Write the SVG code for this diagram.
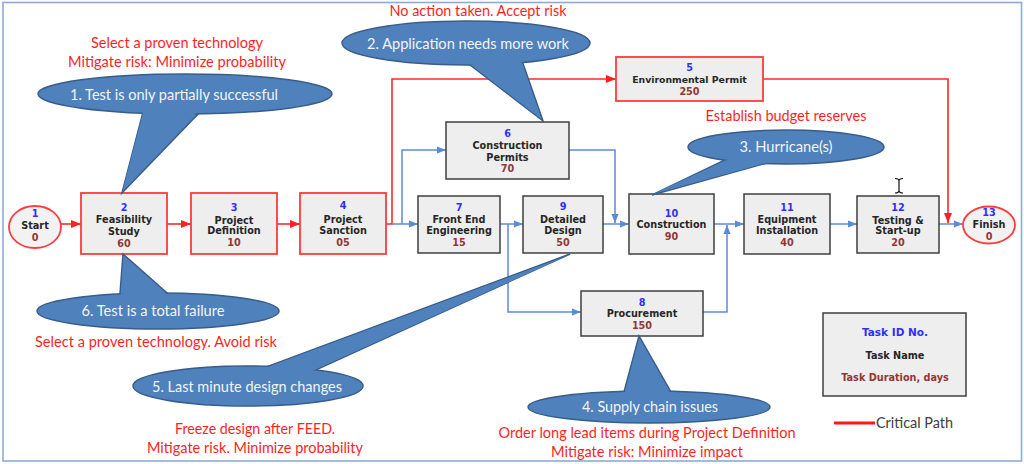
<svg xmlns="http://www.w3.org/2000/svg" width="1024" height="464" viewBox="0 0 1024 464">
<style>
.bg{fill:#ffffff}
.frame{fill:none;stroke:#8eaad6;stroke-width:1.6}
.box{fill:#eeeeee;stroke:#3f3f3f;stroke-width:1.5}
.cbox{fill:#eeeeee;stroke:#ff3b3b;stroke-width:1.8}
.t{font-family:"DejaVu Sans",Verdana,sans-serif;font-weight:bold;font-size:9.7px;text-anchor:middle}
.num{fill:#2e2eff}
.nm{fill:#262626}
.dur{fill:#943634}
.cs{fill:#4f81bd;stroke:#385d8a;stroke-width:1.5}
.cf{fill:#4f81bd;stroke:none}
.ct{font-family:Lato,"Open Sans",sans-serif;font-size:15px;fill:#f4f4f4;text-anchor:middle}
.note{font-family:Lato,"Open Sans",sans-serif;font-size:15px;fill:#ff1f1f;text-anchor:middle}
.cb{fill:none;stroke:#5b8ad6;stroke-width:1.5}
.cr{fill:none;stroke:#ff2a2a;stroke-width:1.6}
</style>
<defs>
<marker id="ab" viewBox="0 0 10 8" refX="10" refY="4" markerWidth="9" markerHeight="7.5" markerUnits="userSpaceOnUse" orient="auto"><path d="M0,0L10,4L0,8z" fill="#5b8ad6"/></marker>
<marker id="ar" viewBox="0 0 10 8" refX="10" refY="4" markerWidth="10" markerHeight="8.5" markerUnits="userSpaceOnUse" orient="auto"><path d="M0,0L10,4L0,8z" fill="#ff2020"/></marker>
</defs>
<rect class="bg" x="0" y="0" width="1024" height="464"/>
<rect class="frame" x="3" y="2.5" width="1018.5" height="458.5"/>

<g id="connectors">
<path class="cr" d="M61,224H81" marker-end="url(#ar)"/>
<path class="cr" d="M167,224H191" marker-end="url(#ar)"/>
<path class="cr" d="M277,224H300" marker-end="url(#ar)"/>
<path class="cr" d="M386,224H392V79H616" marker-end="url(#ar)"/>
<path class="cr" d="M763,79H948V223" marker-end="url(#ar)"/>
<path class="cb" d="M392,224H418" marker-end="url(#ab)"/>
<path class="cb" d="M402,224V150H446" marker-end="url(#ab)"/>
<path class="cb" d="M500,224H523" marker-end="url(#ab)"/>
<path class="cb" d="M508,224V312H581" marker-end="url(#ab)"/>
<path class="cb" d="M569,150H615V223" marker-end="url(#ab)"/>
<path class="cb" d="M603,224H629" marker-end="url(#ab)"/>
<path class="cb" d="M714,224H744" marker-end="url(#ab)"/>
<path class="cb" d="M703,312H727V225" marker-end="url(#ab)"/>
<path class="cb" d="M830,224H857" marker-end="url(#ab)"/>
<path class="cb" d="M939,224H963" marker-end="url(#ab)"/>
</g>

<g id="n1">
<ellipse cx="35" cy="227" rx="26" ry="21" fill="#f2f2f2" stroke="#ff3b3b" stroke-width="1.8"/>
<text class="t num" x="35" y="216.5">1</text>
<text class="t nm" x="35" y="228.5">Start</text>
<text class="t dur" x="35" y="240.5">0</text>
</g>
<g id="n2">
<rect class="cbox" x="81" y="193" width="86" height="61"/>
<text class="t num" x="124" y="210.5">2</text>
<text class="t nm" x="124" y="223">Feasibility</text>
<text class="t nm" x="124" y="234.5">Study</text>
<text class="t dur" x="124" y="246.5">60</text>
</g>
<g id="n3">
<rect class="cbox" x="191" y="193" width="86" height="61"/>
<text class="t num" x="234" y="210.5">3</text>
<text class="t nm" x="234" y="223.5">Project</text>
<text class="t nm" x="234" y="234">Definition</text>
<text class="t dur" x="234" y="245.5">10</text>
</g>
<g id="n4">
<rect class="cbox" x="300" y="193" width="86" height="61"/>
<text class="t num" x="343" y="209">4</text>
<text class="t nm" x="343" y="222.5">Project</text>
<text class="t nm" x="343" y="234">Sanction</text>
<text class="t dur" x="343" y="246">05</text>
</g>
<g id="n5">
<rect class="cbox" x="616" y="57" width="147" height="44"/>
<text class="t num" x="689.5" y="70.5">5</text>
<text class="t nm" x="689.5" y="82.5" style="font-size:9.3px">Environmental Permit</text>
<text class="t dur" x="689.5" y="94.5">250</text>
</g>
<g id="n6">
<rect class="box" x="446" y="122" width="123" height="57"/>
<text class="t num" x="507.5" y="136.5">6</text>
<text class="t nm" x="507.5" y="148.5">Construction</text>
<text class="t nm" x="507.5" y="160.5">Permits</text>
<text class="t dur" x="507.5" y="171.5">70</text>
</g>
<g id="n7">
<rect class="box" x="418" y="196" width="82" height="57"/>
<text class="t num" x="459" y="210.5">7</text>
<text class="t nm" x="459" y="222.5">Front End</text>
<text class="t nm" x="459" y="233.5">Engineering</text>
<text class="t dur" x="459" y="245.5">15</text>
</g>
<g id="n9">
<rect class="box" x="523" y="196" width="80" height="57"/>
<text class="t num" x="563" y="210">9</text>
<text class="t nm" x="563" y="222.5">Detailed</text>
<text class="t nm" x="563" y="233.5">Design</text>
<text class="t dur" x="563" y="245.5">50</text>
</g>
<g id="n10">
<rect class="box" x="629" y="194" width="85" height="60"/>
<text class="t num" x="671.5" y="216.5">10</text>
<text class="t nm" x="671.5" y="227.5">Construction</text>
<text class="t dur" x="671.5" y="239.5">90</text>
</g>
<g id="n11">
<rect class="box" x="744" y="194" width="86" height="60"/>
<text class="t num" x="787" y="210.5">11</text>
<text class="t nm" x="787" y="222.5">Equipment</text>
<text class="t nm" x="787" y="233.5">Installation</text>
<text class="t dur" x="787" y="245.5">40</text>
</g>
<g id="n12">
<rect class="box" x="857" y="196" width="82" height="57"/>
<text class="t num" x="898" y="210.5">12</text>
<text class="t nm" x="898" y="223.5">Testing &amp;</text>
<text class="t nm" x="898" y="233.5">Start-up</text>
<text class="t dur" x="898" y="245.5">20</text>
</g>
<g id="n8">
<rect class="box" x="581" y="291" width="122" height="45"/>
<text class="t num" x="642" y="305.5">8</text>
<text class="t nm" x="642" y="316.5">Procurement</text>
<text class="t dur" x="642" y="328.5">150</text>
</g>
<g id="n13">
<ellipse cx="989" cy="225" rx="26" ry="18.5" fill="#f2f2f2" stroke="#ff3b3b" stroke-width="1.8"/>
<text class="t num" x="989" y="215.5">13</text>
<text class="t nm" x="989" y="227.5">Finish</text>
<text class="t dur" x="989" y="239.5">0</text>
</g>

<g id="callout1">
<polygon class="cs" points="144.6,106 122,193 205.8,106"/>
<ellipse class="cs" cx="185" cy="94" rx="147" ry="20"/>
<polygon class="cf" points="145.2,104 122.8,190 204.6,104"/>
<text class="ct" x="174" y="100" textLength="208" lengthAdjust="spacingAndGlyphs">1. Test is only partially successful</text>
</g>
<g id="callout2">
<polygon class="cs" points="457,55 543,121 520,55"/>
<ellipse class="cs" cx="466" cy="43" rx="124" ry="22"/>
<polygon class="cf" points="458.5,55 541.5,119 519,55"/>
<text class="ct" x="468" y="49" textLength="202" lengthAdjust="spacingAndGlyphs">2. Application needs more work</text>
</g>
<g id="callout3">
<polygon class="cs" points="735.4,155 652,195 792,156"/>
<ellipse class="cs" cx="786" cy="147" rx="98" ry="17"/>
<polygon class="cf" points="736,155.5 654.5,193.5 790,156.5"/>
<text class="ct" x="786" y="152" textLength="93" lengthAdjust="spacingAndGlyphs">3. Hurricane(s)</text>
</g>
<g id="callout4">
<polygon class="cs" points="622.4,398 639,336 674.4,398"/>
<ellipse class="cs" cx="649" cy="407" rx="121" ry="16"/>
<polygon class="cf" points="623.2,398.5 639.3,338.5 673.4,398.5"/>
<text class="ct" x="650" y="412" textLength="136" lengthAdjust="spacingAndGlyphs">4. Supply chain issues</text>
</g>
<g id="callout5">
<polygon class="cs" points="252.8,372 570,254 302.5,376"/>
<ellipse class="cs" cx="248" cy="386" rx="115" ry="20"/>
<polygon class="cf" points="254,372.3 567.5,255.6 302,375.5"/>
<text class="ct" x="247" y="392" textLength="190" lengthAdjust="spacingAndGlyphs">5. Last minute design changes</text>
</g>
<g id="callout6">
<polygon class="cs" points="119.5,300 123,254 175,300"/>
<ellipse class="cs" cx="158" cy="311" rx="121" ry="18"/>
<polygon class="cf" points="120.3,300.5 123.6,256.5 174,300.5"/>
<text class="ct" x="153" y="316" textLength="143" lengthAdjust="spacingAndGlyphs">6. Test is a total failure</text>
</g>

<g id="notes">
<text class="note" x="177" y="48" textLength="172" lengthAdjust="spacingAndGlyphs">Select a proven technology</text>
<text class="note" x="177" y="67" textLength="218" lengthAdjust="spacingAndGlyphs">Mitigate risk: Minimize probability</text>
<text class="note" x="478" y="16" textLength="177" lengthAdjust="spacingAndGlyphs">No action taken. Accept risk</text>
<text class="note" x="786" y="121" textLength="161" lengthAdjust="spacingAndGlyphs">Establish budget reserves</text>
<text class="note" x="156" y="347" textLength="242" lengthAdjust="spacingAndGlyphs">Select a proven technology. Avoid risk</text>
<text class="note" x="255" y="434" textLength="160" lengthAdjust="spacingAndGlyphs">Freeze design after FEED.</text>
<text class="note" x="255" y="453" textLength="216" lengthAdjust="spacingAndGlyphs">Mitigate risk. Minimize probability</text>
<text class="note" x="647" y="438" textLength="297" lengthAdjust="spacingAndGlyphs">Order long lead items during Project Definition</text>
<text class="note" x="647" y="457" textLength="192" lengthAdjust="spacingAndGlyphs">Mitigate risk: Minimize impact</text>
</g>

<g id="legend">
<rect class="box" x="823" y="313" width="143" height="83"/>
<text class="t num" x="895" y="336" style="font-size:10.5px">Task ID No.</text>
<text class="t nm" x="895" y="358.5">Task Name</text>
<text class="t dur" x="895" y="380.5">Task Duration, days</text>
<line x1="834" y1="423" x2="875" y2="423" stroke="#ff1a1a" stroke-width="3"/>
<text x="876" y="427.5" font-family="Lato,'Open Sans',sans-serif" font-size="14.5px" fill="#404040" textLength="77" lengthAdjust="spacingAndGlyphs">Critical Path</text>
</g>

<g id="cursor">
<path d="M895,178.5Q899,178.5 899,181V190.5Q899,193 895,193M903,178.5Q899,178.5 899,181V190.5Q899,193 903,193" fill="none" stroke="#111111" stroke-width="1.2"/>
</g>
</svg>
